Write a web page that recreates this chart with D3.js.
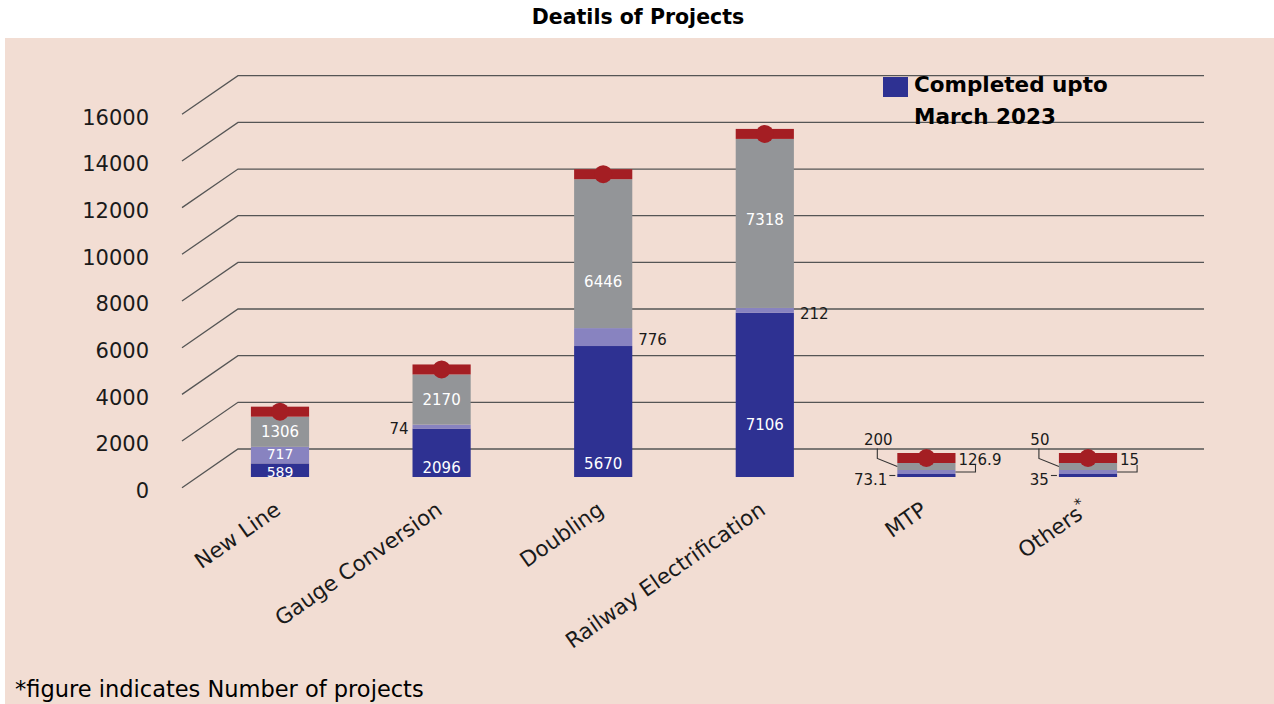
<!DOCTYPE html>
<html><head><meta charset="utf-8">
<script src="https://cdn.jsdelivr.net/npm/d3@7"></script>
<style>
html,body{margin:0;padding:0;background:#fff;}
svg{display:block;}
</style></head>
<body>
<svg id="chart" width="1274" height="704"></svg>
<script>
// ---- data ----
const categories = ["New Line", "Gauge Conversion", "Doubling", "Railway Electrification", "MTP", "Others"];
const completed = [589, 2096, 5670, 7106, 73.1, 35];      // Completed upto March 2023
const balance   = [717, 74, 776, 212, 126.9, 15];
const totals    = [1306, 2170, 6446, 7318, 200, 50];
const yTicks    = [0, 2000, 4000, 6000, 8000, 10000, 12000, 14000, 16000];
const legendLabel = ["Completed upto", "March 2023"];
const titleText = "Deatils of Projects";
const footnote = "*figure indicates Number of projects";

// ---- styles / layout config ----
const FONT = "'DejaVu Sans', sans-serif";
const colors = {completed: "#2e3192", balance: "#8883c0", total: "#939598", cap: "#a41e23", bg: "#f2ddd3", grid: "#555"};
const minPx = [3, 4, 7];
const blueMode = ["in", "in", "in", "in", "leftDash", "leftDash"];
const blueFrac = [0.33, 0.19, 0.1, 0.32, 0, 0];
const purpleMode = ["in", "left", "right", "right", "rightElbow", "rightElbow"];
const purpleShift = [-1.5, 0, 0, 0, 0, 0];
const grayMode = ["in", "in", "in", "in", "leftElbow", "leftElbow"];
const grayFrac = [0.5, 0.5, 0.31, 0.52, 0, 0];

const svg = d3.select("#chart");
svg.append("rect").attr("x", 5).attr("y", 38).attr("width", 1269).attr("height", 666).attr("fill", colors.bg);

// title
svg.append("text").attr("x", 638).attr("y", 24).attr("text-anchor", "middle")
  .attr("font-family", FONT).attr("font-weight", "bold").attr("font-size", 20.5).attr("fill", "#000").text(titleText);

// pseudo-3D gridlines: back wall and left slanted wall
const yBack = d3.scaleLinear().domain([0, 16000]).range([449, 75.7]);
const yFront = d3.scaleLinear().domain([0, 16000]).range([487.7, 114.3]);
const gx0 = 182, gx1 = 238, gx2 = 1204;
const grid = svg.append("g");
yTicks.forEach(t => {
  grid.append("path")
    .attr("d", d3.line()([[gx0, yFront(t)], [gx1, yBack(t)], [gx2, yBack(t)]]))
    .attr("fill", "none").attr("stroke", colors.grid).attr("stroke-width", 1.3);
});
// y tick labels
svg.append("g").selectAll("text").data(yTicks).join("text")
  .attr("x", 149).attr("y", d => yFront(d) + 3).attr("dy", "0.35em")
  .attr("text-anchor", "end").attr("font-family", FONT).attr("font-size", 21).attr("fill", "#1a1a1a")
  .text(d => d);

// bars
const x = d3.scaleBand().domain(categories).range([199.2, 1168.8]).padding(0);
const barW = x.bandwidth() * 0.36;
const y = d3.scaleLinear().domain([0, 16000]).range([477, 477 - 369.6]);
const base = y(0);

const bars = svg.append("g");
const labels = svg.append("g").attr("font-family", FONT).attr("font-size", 15);
const leaders = svg.append("g").attr("fill", "none").attr("stroke", "#333").attr("stroke-width", 1.1);

categories.forEach((c, i) => {
  const cx = x(c) + x.bandwidth() / 2;
  const left = cx - barW / 2, right = cx + barW / 2;
  const vals = [completed[i], balance[i], totals[i]];
  const cols = [colors.completed, colors.balance, colors.total];
  let top = base;
  const segs = vals.map((v, k) => {
    const h = Math.max(base - y(v), minPx[k]);
    const s = {y0: top, y1: top - h};
    top -= h;
    return s;
  });
  segs.forEach((s, k) => {
    bars.append("rect").attr("x", left).attr("y", s.y1).attr("width", barW).attr("height", s.y0 - s.y1).attr("fill", cols[k]);
  });
  // red cap with marker
  const capH = 10;
  bars.append("rect").attr("x", left).attr("y", top - capH).attr("width", barW).attr("height", capH).attr("fill", colors.cap);
  bars.append("circle").attr("cx", cx).attr("cy", top - capH / 2).attr("r", 9).attr("fill", colors.cap);

  const fmt = v => String(v);
  const small = (segs[0].y0 - segs[0].y1) < 20 ? 14 : 15;
  // completed label
  const sb = segs[0];
  if (blueMode[i] === "in") {
    labels.append("text").attr("x", cx).attr("y", sb.y0 - (sb.y0 - sb.y1) * blueFrac[i]).attr("dy", "0.35em")
      .attr("font-size", small).attr("text-anchor", "middle").attr("fill", "#fff").text(fmt(completed[i]));
  } else {
    const m = (sb.y0 + sb.y1) / 2;
    leaders.append("path").attr("d", d3.line()([[left - 8, m], [left - 2, m]]));
    labels.append("text").attr("x", left - 10).attr("y", m + 4).attr("dy", "0.35em")
      .attr("text-anchor", "end").attr("fill", "#1a1a1a").text(fmt(completed[i]));
  }
  // balance label
  const sp = segs[1];
  const mp = (sp.y0 + sp.y1) / 2;
  if (purpleMode[i] === "in") {
    labels.append("text").attr("x", cx).attr("y", mp + purpleShift[i]).attr("dy", "0.35em")
      .attr("font-size", small).attr("text-anchor", "middle").attr("fill", "#fff").text(fmt(balance[i]));
  } else if (purpleMode[i] === "left") {
    labels.append("text").attr("x", left - 4).attr("y", mp + 2).attr("dy", "0.35em")
      .attr("text-anchor", "end").attr("fill", "#1a1a1a").text(fmt(balance[i]));
  } else if (purpleMode[i] === "right") {
    labels.append("text").attr("x", right + 6).attr("y", mp + 3).attr("dy", "0.35em")
      .attr("text-anchor", "start").attr("fill", "#1a1a1a").text(fmt(balance[i]));
  } else {
    leaders.append("path").attr("d", d3.line()([[right, mp], [right + 20, mp], [right + 20, mp - 7]]));
    labels.append("text").attr("x", right + 3).attr("y", mp - 12).attr("dy", "0.35em")
      .attr("text-anchor", "start").attr("fill", "#1a1a1a").text(fmt(balance[i]));
  }
  // total label
  const sg = segs[2];
  const mg = (sg.y0 + sg.y1) / 2;
  if (grayMode[i] === "in") {
    labels.append("text").attr("x", cx).attr("y", sg.y0 - (sg.y0 - sg.y1) * grayFrac[i]).attr("dy", "0.35em")
      .attr("text-anchor", "middle").attr("fill", "#fff").text(fmt(totals[i]));
  } else {
    leaders.append("path").attr("d", d3.line()([[left - 20, mg - 18], [left - 20, mg - 8], [left, mg]]));
    labels.append("text").attr("x", left - 19).attr("y", mg - 27).attr("dy", "0.35em")
      .attr("text-anchor", "middle").attr("fill", "#1a1a1a").text(fmt(totals[i]));
  }
});

// category labels
const catG = svg.append("g").attr("font-family", FONT).attr("font-size", 21.5).attr("fill", "#1a1a1a");
categories.forEach((c, i) => {
  const cx = x(c) + x.bandwidth() / 2;
  const t = catG.append("text").attr("text-anchor", "end")
    .attr("transform", `translate(${cx + 2},${513}) rotate(-35)`);
  t.append("tspan").text(c);
  if (i === categories.length - 1) {
    t.append("tspan").attr("font-size", 15).attr("dy", -9).text("*");
  }
});

// legend
svg.append("rect").attr("x", 883).attr("y", 77).attr("width", 25).attr("height", 20).attr("fill", colors.completed);
svg.append("g").attr("font-family", FONT).attr("font-weight", "bold").attr("font-size", 21.5).attr("fill", "#000")
  .selectAll("text").data(legendLabel).join("text")
  .attr("x", 914).attr("y", (d, i) => 92 + i * 32).text(d => d);

// footnote
svg.append("text").attr("x", 15).attr("y", 697).attr("font-family", FONT).attr("font-size", 22.5).attr("fill", "#000").text(footnote);
</script>
</body></html>
